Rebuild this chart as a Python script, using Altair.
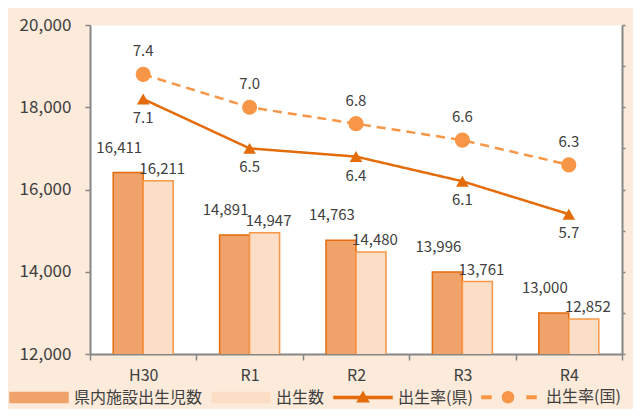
import altair as alt
import pandas as pd

# ---- data ----
categories = ["H30", "R1", "R2", "R3", "R4"]
facility_births = [16411, 14891, 14763, 13996, 13000]   # 県内施設出生児数
births = [16211, 14947, 14480, 13761, 12852]            # 出生数
rate_pref = [7.1, 6.5, 6.4, 6.1, 5.7]                   # 出生率(県)
rate_nation = [7.4, 7.0, 6.8, 6.6, 6.3]                 # 出生率(国)

S1, S2, S3, S4 = "県内施設出生児数", "出生数", "出生率(県)", "出生率(国)"
series_names = [S1, S2, S3, S4]

bar_df = pd.DataFrame({
    "cat": categories * 2,
    "series": [S1] * 5 + [S2] * 5,
    "value": facility_births + births,
})
rate_df = pd.DataFrame({
    "cat": categories * 2,
    "series": [S3] * 5 + [S4] * 5,
    "rate": rate_pref + rate_nation,
})

# ---- styles ----
DARK = "#E46C0A"
LIGHT = "#F79646"
TEXT = "#404040"
AXIS = "#868686"
FONT = "Noto Sans CJK JP"

color_scale = alt.Scale(domain=series_names, range=["#EFA36A", "#FCDEC6", DARK, LIGHT])
stroke_scale = alt.Scale(domain=series_names, range=[DARK, LIGHT, DARK, LIGHT])

RECT = "M-1.1,-0.5H4.7V0.5H-1.1Z"
TRI = "M-1.1,-0.1H4.7V0.1H-1.1Z M1.8,-0.55L2.35,0.42L1.25,0.42Z"
DASH = ("M-1.1,-0.12H-0.2V0.12H-1.1Z M0.95,0A0.55,0.55 0 1,1 2.05,0"
        "A0.55,0.55 0 1,1 0.95,0Z M3.4,-0.12H4.3V0.12H3.4Z")
shape_expr = (f"datum.value === '{S3}' ? '{TRI}' : "
              f"(datum.value === '{S4}' ? '{DASH}' : '{RECT}')")
stroke_expr = (f"(datum.value === '{S2}' || datum.value === '{S4}') ? '{LIGHT}' : '{DARK}'")

legend = alt.Legend(
    title=None, orient="none", legendX=-80, legendY=361,
    direction="horizontal", symbolType={"expr": shape_expr},
    symbolStrokeColor={"expr": stroke_expr},
    symbolSize=400, symbolStrokeWidth=1.5, symbolOpacity=1,
    labelOffset=42, labelFontSize=16, labelFont=FONT, labelColor=TEXT,
    columnPadding=6, padding=0, labelLimit=300,
)

x_enc = alt.X(
    "cat:N", sort=categories,
    scale=alt.Scale(domain=categories, paddingInner=0, paddingOuter=0),
    axis=alt.Axis(title=None, labelAngle=0, tickBand="extent", tickSize=6,
                  tickColor=AXIS, tickWidth=1.5, domainColor=AXIS, domainWidth=2,
                  labelPadding=7, labelFontSize=16, labelColor=TEXT, labelFont=FONT),
)
xoff_enc = alt.XOffset("series:N",
                       scale=alt.Scale(domain=[S1, S2], paddingInner=0, paddingOuter=0.773))

y_left = alt.Y(
    "value:Q",
    scale=alt.Scale(domain=[12000, 20000], zero=False, nice=False),
    axis=alt.Axis(title=None, values=[12000, 14000, 16000, 18000, 20000], format=",.0f",
                  grid=False, tickSize=5, tickColor=AXIS, tickWidth=1.5,
                  domainColor=AXIS, domainWidth=2, labelPadding=14,
                  labelFontSize=17, labelColor=TEXT, labelFont=FONT),
)
y_right = alt.Y(
    "rate:Q",
    scale=alt.Scale(domain=[4, 8], zero=False, nice=False),
    axis=alt.Axis(title=None, orient="right", labels=False, grid=False,
                  values=[4, 4.5, 5, 5.5, 6, 6.5, 7, 7.5, 8],
                  tickSize=3, tickColor=AXIS, tickWidth=1.5,
                  domainColor=AXIS, domainWidth=2),
)

bars = alt.Chart(bar_df).mark_bar(strokeWidth=1.5, clip=True).encode(
    x=x_enc, xOffset=xoff_enc, y=y_left,
    color=alt.Color("series:N", scale=color_scale, legend=legend),
    stroke=alt.Stroke("series:N", scale=stroke_scale, legend=legend),
)

lab1 = alt.Chart(bar_df).transform_filter(alt.datum.series == S1).mark_text(
    dx=-9, dy=-25, fontSize=15, font=FONT, color=TEXT, baseline="middle"
).encode(x=x_enc, xOffset=xoff_enc, y=y_left, text=alt.Text("value:Q", format=","))

lab2 = alt.Chart(bar_df).transform_filter(alt.datum.series == S2).mark_text(
    dx=4, dy=-12, fontSize=15, font=FONT, color=TEXT, baseline="middle"
).encode(x=x_enc, xOffset=xoff_enc, y=y_left, text=alt.Text("value:Q", format=","))

left = alt.layer(bars, lab1, lab2)

lines = alt.Chart(rate_df).mark_line(strokeWidth=2.5).encode(
    x=x_enc, y=y_right,
    color=alt.Color("series:N", scale=color_scale, legend=None),
    strokeDash=alt.StrokeDash("series:N",
                              scale=alt.Scale(domain=[S3, S4], range=[[1, 0], [9, 6]]),
                              legend=None),
)
points = alt.Chart(rate_df).mark_point(filled=True, opacity=1).encode(
    x=x_enc, y=y_right,
    color=alt.Color("series:N", scale=color_scale, legend=None),
    shape=alt.Shape("series:N", scale=alt.Scale(domain=[S3, S4],
                                                range=["triangle-up", "circle"]), legend=None),
    size=alt.Size("series:N", scale=alt.Scale(domain=[S3, S4], range=[160, 230]), legend=None),
)
rl1 = alt.Chart(rate_df).transform_filter(alt.datum.series == S3).mark_text(
    dy=19, fontSize=15, font=FONT, color=TEXT, baseline="middle"
).encode(x=x_enc, y=y_right, text=alt.Text("rate:Q", format=".1f"))
rl2 = alt.Chart(rate_df).transform_filter(alt.datum.series == S4).mark_text(
    dy=-23, fontSize=15, font=FONT, color=TEXT, baseline="middle"
).encode(x=x_enc, y=y_right, text=alt.Text("rate:Q", format=".1f"))

right = alt.layer(lines, points, rl1, rl2)

chart = alt.layer(left, right).resolve_scale(y="independent").properties(
    width=532, height=329,
    autosize=alt.AutoSizeParams(type="none"),
    padding={"left": 82, "top": 17, "right": 11, "bottom": 55},
    background="#FCEADA",
).configure(font=FONT).configure_view(fill="white", stroke="transparent")

chart.save("out.html", embed_options={"renderer": "svg", "actions": False})
